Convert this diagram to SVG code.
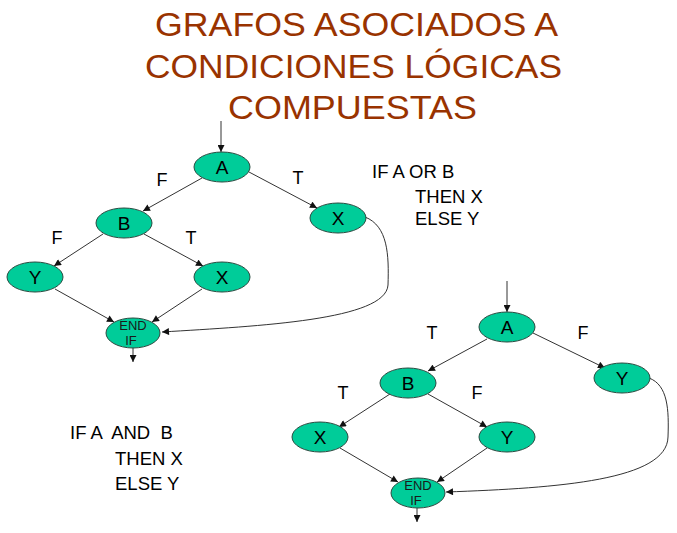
<svg xmlns="http://www.w3.org/2000/svg" width="677" height="533" viewBox="0 0 677 533">
<style>
  .title { font-family: "Liberation Sans", Arial, sans-serif; font-size: 33px; fill: #993300; }
  .node ellipse { fill: #00CC99; stroke: #2a4a40; stroke-width: 1; }
  .nl { font-family: "Liberation Sans", Arial, sans-serif; font-size: 19px; fill: #000; text-anchor: middle; }
  .el { font-family: "Liberation Sans", Arial, sans-serif; font-size: 13px; fill: #1a1a1a; text-anchor: middle; }
  .lbl { font-family: "Liberation Sans", Arial, sans-serif; font-size: 18px; fill: #000; text-anchor: middle; }
  .code { font-family: "Liberation Sans", Arial, sans-serif; font-size: 18.5px; fill: #000; white-space: pre; }
  .edges path { fill: none; stroke: #333; stroke-width: 1; marker-end: url(#ah); }
</style>
<defs>
  <marker id="ah" viewBox="0 0 10 10" refX="10" refY="5" markerWidth="8" markerHeight="7" markerUnits="userSpaceOnUse" orient="auto">
    <path d="M0,0 L10,5 L0,10 z" fill="#111"/>
  </marker>
</defs>
<rect width="677" height="533" fill="#fff"/>
<g id="title">
  <text class="title" x="155" y="36" textLength="403" lengthAdjust="spacingAndGlyphs">GRAFOS ASOCIADOS A</text>
  <text class="title" x="145" y="78" textLength="417" lengthAdjust="spacingAndGlyphs">CONDICIONES LÓGICAS</text>
  <text class="title" x="228" y="119" textLength="249" lengthAdjust="spacingAndGlyphs">COMPUESTAS</text>
</g>
<g class="edges" id="connectors">
  <path d="M221,121 L221,152"/>
  <path d="M202,178 L143,211"/>
  <path d="M249,172 L317,208"/>
  <path d="M103,234 L54,266"/>
  <path d="M144,234 L203,266"/>
  <path d="M55,289 L114,322"/>
  <path d="M202,289 L152,322"/>
  <path d="M365,217 C388,226 389,255 388,285 C386,320 260,326 162,332"/>
  <path d="M133,347 L133,362"/>
  <path d="M507,281 L507,312"/>
  <path d="M487,339 L428,371"/>
  <path d="M533,333 L605,368"/>
  <path d="M390,394 L339,427"/>
  <path d="M428,394 L487,427"/>
  <path d="M340,448 L398,482"/>
  <path d="M487,448 L437,482"/>
  <path d="M649,378 C668,385 669,410 668,437 C667,480 560,488 446,492"/>
  <path d="M417,508 L417,522"/>
</g>
<g id="edge-labels">
  <text class="lbl" x="162" y="186">F</text>
  <text class="lbl" x="298" y="184">T</text>
  <text class="lbl" x="57" y="244">F</text>
  <text class="lbl" x="191" y="244">T</text>
  <text class="lbl" x="432" y="339">T</text>
  <text class="lbl" x="583" y="339">F</text>
  <text class="lbl" x="343" y="399">T</text>
  <text class="lbl" x="477" y="399">F</text>
</g>
<g class="node" id="or-A"><ellipse cx="222" cy="167" rx="28" ry="15"/><text class="nl" x="222" y="174">A</text></g>
<g class="node" id="or-B"><ellipse cx="124" cy="223" rx="28" ry="15"/><text class="nl" x="124" y="230">B</text></g>
<g class="node" id="or-X1"><ellipse cx="338" cy="218" rx="28" ry="15"/><text class="nl" x="338" y="225">X</text></g>
<g class="node" id="or-Y"><ellipse cx="35" cy="277" rx="28" ry="15"/><text class="nl" x="35" y="284">Y</text></g>
<g class="node" id="or-X2"><ellipse cx="222" cy="277" rx="28" ry="15"/><text class="nl" x="222" y="284">X</text></g>
<g class="node" id="or-END"><ellipse cx="133" cy="333" rx="27" ry="15"/><text class="el" x="133" y="330">END</text><text class="el" x="131" y="345">IF</text></g>
<g class="node" id="and-A"><ellipse cx="507" cy="327" rx="28" ry="15"/><text class="nl" x="507" y="334">A</text></g>
<g class="node" id="and-B"><ellipse cx="408" cy="383" rx="28" ry="15"/><text class="nl" x="408" y="390">B</text></g>
<g class="node" id="and-Y1"><ellipse cx="622" cy="378" rx="28" ry="15"/><text class="nl" x="622" y="385">Y</text></g>
<g class="node" id="and-X"><ellipse cx="320" cy="437" rx="28" ry="15"/><text class="nl" x="320" y="444">X</text></g>
<g class="node" id="and-Y2"><ellipse cx="507" cy="437" rx="28" ry="15"/><text class="nl" x="507" y="444">Y</text></g>
<g class="node" id="and-END"><ellipse cx="418" cy="493" rx="27" ry="15"/><text class="el" x="418" y="490">END</text><text class="el" x="416" y="505">IF</text></g>
<g id="code-or">
  <text class="code" x="372" y="178">IF A OR B</text>
  <text class="code" x="415" y="203">THEN X</text>
  <text class="code" x="415" y="225">ELSE Y</text>
</g>
<g id="code-and">
  <text class="code" x="70" y="439" xml:space="preserve">IF A  AND  B</text>
  <text class="code" x="115" y="465">THEN X</text>
  <text class="code" x="115" y="490">ELSE Y</text>
</g>
</svg>
